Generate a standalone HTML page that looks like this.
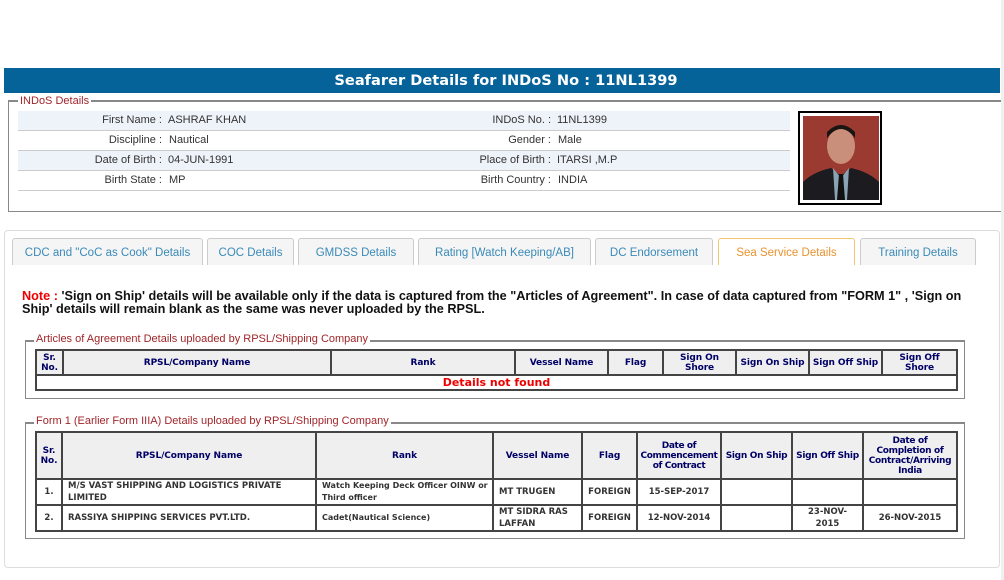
<!DOCTYPE html>
<html><head><meta charset="utf-8"><style>
*{box-sizing:border-box;margin:0;padding:0}
body{width:1004px;height:580px;background:#fff;position:relative;overflow:hidden;font-family:"Liberation Sans",Arial,sans-serif;font-size:11px;color:#333}
.abs{position:absolute}
.hdr{left:4px;top:68px;width:996px;height:25px;background:#06639a;color:#fff;font-family:"DejaVu Sans",sans-serif;font-weight:bold;font-size:14.6px;text-align:center;line-height:25px;padding-left:8px}
.fs{border:1px solid #888;border-top:2px solid #888}
.lg{background:#fff;color:#a0262a;padding:0 2px;font-size:11px;line-height:12px}
.row{left:18px;width:772px;height:20px;border-bottom:1px solid #ccc}
.lab{position:absolute;text-align:right;line-height:20px;color:#333}
.val{position:absolute;line-height:20px}
.tab{top:238px;height:27px;border:1px solid #ccc;border-bottom:none;border-radius:3px 3px 0 0;background:#f5f5f5;color:#3a8ab8;text-align:center;line-height:28px;font-size:11.5px}
table{border-collapse:collapse;position:absolute;font-family:"DejaVu Sans",sans-serif;font-weight:bold;color:#000066;font-size:9.5px;table-layout:fixed;border:2px solid #444}
td{border:2px solid #444;text-align:center;line-height:10px;padding:0}
th{border:2px solid #444;background:#efefef;font-weight:bold;line-height:10px;padding:0;font-size:9px;color:#000066;letter-spacing:-0.1px}
.b td{color:#333;font-size:8.5px;line-height:12px}
.l{text-align:left;padding-left:5px}
</style></head><body>
<div class="abs hdr">Seafarer Details for INDoS No : 11NL1399</div>
<div class="abs fs" style="left:8px;top:100px;width:994px;height:112px"></div>
<div class="abs lg" style="left:18px;top:95px">INDoS Details</div>
<div class="abs row" style="top:111px;background:#eef3fa"></div>
<div class="abs row" style="top:131px"></div>
<div class="abs row" style="top:151px;background:#eef3fa"></div>
<div class="abs row" style="top:171px"></div>
<div class="lab" style="left:0;width:162px;top:110px">First Name :</div><div class="val" style="left:168px;top:110px">ASHRAF KHAN</div>
<div class="lab" style="left:0;width:162px;top:130px">Discipline :</div><div class="val" style="left:169px;top:130px">Nautical</div>
<div class="lab" style="left:0;width:162px;top:150px">Date of Birth :</div><div class="val" style="left:168px;top:150px">04-JUN-1991</div>
<div class="lab" style="left:0;width:162px;top:170px">Birth State :</div><div class="val" style="left:169px;top:170px">MP</div>
<div class="lab" style="left:300px;width:251px;top:110px">INDoS No. :</div><div class="val" style="left:557px;top:110px">11NL1399</div>
<div class="lab" style="left:300px;width:251px;top:130px">Gender :</div><div class="val" style="left:558px;top:130px">Male</div>
<div class="lab" style="left:300px;width:251px;top:150px">Place of Birth :</div><div class="val" style="left:557px;top:150px">ITARSI ,M.P</div>
<div class="lab" style="left:300px;width:251px;top:170px">Birth Country :</div><div class="val" style="left:558px;top:170px">INDIA</div>
<div class="abs" style="left:798px;top:111px;width:84px;height:94px;border:2px solid #000;padding:3px;background:#fff">
<svg width="76" height="84" viewBox="0 0 76 84"><rect width="76" height="84" fill="#9b3a30"/><ellipse cx="38" cy="30" rx="14" ry="18" fill="#c98f7a"/><path d="M24 22 Q38 4 52 22 L52 16 Q38 2 24 16Z" fill="#1a1412"/><path d="M0 84 L0 66 Q10 56 28 52 L38 60 L48 52 Q66 56 76 66 L76 84Z" fill="#1b1b20"/><path d="M30 52 L38 62 L46 52 L44 84 L32 84Z" fill="#8aa4b4"/><path d="M36 58 L40 58 L42 84 L34 84Z" fill="#111"/></svg></div>
<div class="abs" style="left:4px;top:230px;width:996px;height:338px;border:1px solid #ddd;border-radius:4px"></div>
<div class="abs" style="left:1001px;top:0;width:3px;height:580px;background:#f0f0f0"></div>
<div class="abs tab" style="left:12px;width:191px">CDC and "CoC as Cook" Details</div>
<div class="abs tab" style="left:207px;width:87px">COC Details</div>
<div class="abs tab" style="left:298px;width:116px">GMDSS Details</div>
<div class="abs tab" style="left:418px;width:173px">Rating [Watch Keeping/AB]</div>
<div class="abs tab" style="left:595px;width:118px">DC Endorsement</div>
<div class="abs tab" style="left:718px;width:137px;background:#fff;border-color:#f2c66e;color:#e9922e">Sea Service Details</div>
<div class="abs tab" style="left:860px;width:116px">Training Details</div>
<div class="abs" style="left:22px;top:290px;width:970px;font-weight:bold;font-size:12.7px;line-height:13px;color:#111;white-space:nowrap"><span style="color:#e00">Note :</span> 'Sign on Ship' details will be available only if the data is captured from the "Articles of Agreement". In case of data captured from "FORM 1" , 'Sign on<br>Ship' details will remain blank as the same was never uploaded by the RPSL.</div>
<div class="abs fs" style="left:25px;top:340px;width:940px;height:59px"></div>
<div class="abs lg" style="left:34px;top:333px">Articles of Agreement Details uploaded by RPSL/Shipping Company</div>
<table style="left:35px;top:349px;width:921px">
<colgroup><col style="width:27px"><col style="width:268px"><col style="width:184px"><col style="width:93px"><col style="width:55px"><col style="width:73px"><col style="width:73px"><col style="width:73px"><col style="width:75px"></colgroup>
<tr style="height:25px"><th>Sr.<br>No.</th><th>RPSL/Company Name</th><th>Rank</th><th>Vessel Name</th><th>Flag</th><th>Sign On<br>Shore</th><th>Sign On Ship</th><th>Sign Off Ship</th><th>Sign Off<br>Shore</th></tr>
<tr style="height:15px"><td colspan="9" style="color:#e00;font-size:11px;line-height:12px">Details not found</td></tr>
</table>
<div class="abs fs" style="left:25px;top:422px;width:940px;height:117px"></div>
<div class="abs lg" style="left:34px;top:415px">Form 1 (Earlier Form IIIA) Details uploaded by RPSL/Shipping Company</div>
<table style="left:35px;top:431px;width:921px">
<colgroup><col style="width:26px"><col style="width:254px"><col style="width:177px"><col style="width:89px"><col style="width:55px"><col style="width:84px"><col style="width:71px"><col style="width:71px"><col style="width:94px"></colgroup>
<tr style="height:47px"><th>Sr.<br>No.</th><th>RPSL/Company Name</th><th>Rank</th><th>Vessel Name</th><th>Flag</th><th style="letter-spacing:-0.4px">Date of<br>Commencement<br>of Contract</th><th style="white-space:nowrap;letter-spacing:-0.3px">Sign On Ship</th><th style="white-space:nowrap;letter-spacing:-0.3px">Sign Off Ship</th><th style="letter-spacing:-0.3px">Date of<br>Completion of<br>Contract/Arriving<br>India</th></tr>
<tr class="b" style="height:26px"><td>1.</td><td class="l">M/S VAST SHIPPING AND LOGISTICS PRIVATE<br>LIMITED</td><td class="l" style="font-size:8px">Watch Keeping Deck Officer OINW or<br>Third officer</td><td class="l">MT TRUGEN</td><td>FOREIGN</td><td>15-SEP-2017</td><td></td><td></td><td></td></tr>
<tr class="b" style="height:26px"><td>2.</td><td class="l">RASSIYA SHIPPING SERVICES PVT.LTD.</td><td class="l" style="font-size:8px">Cadet(Nautical Science)</td><td class="l">MT SIDRA RAS<br>LAFFAN</td><td>FOREIGN</td><td>12-NOV-2014</td><td></td><td>23-NOV-<br>2015</td><td>26-NOV-2015</td></tr>
</table>
</body></html>
